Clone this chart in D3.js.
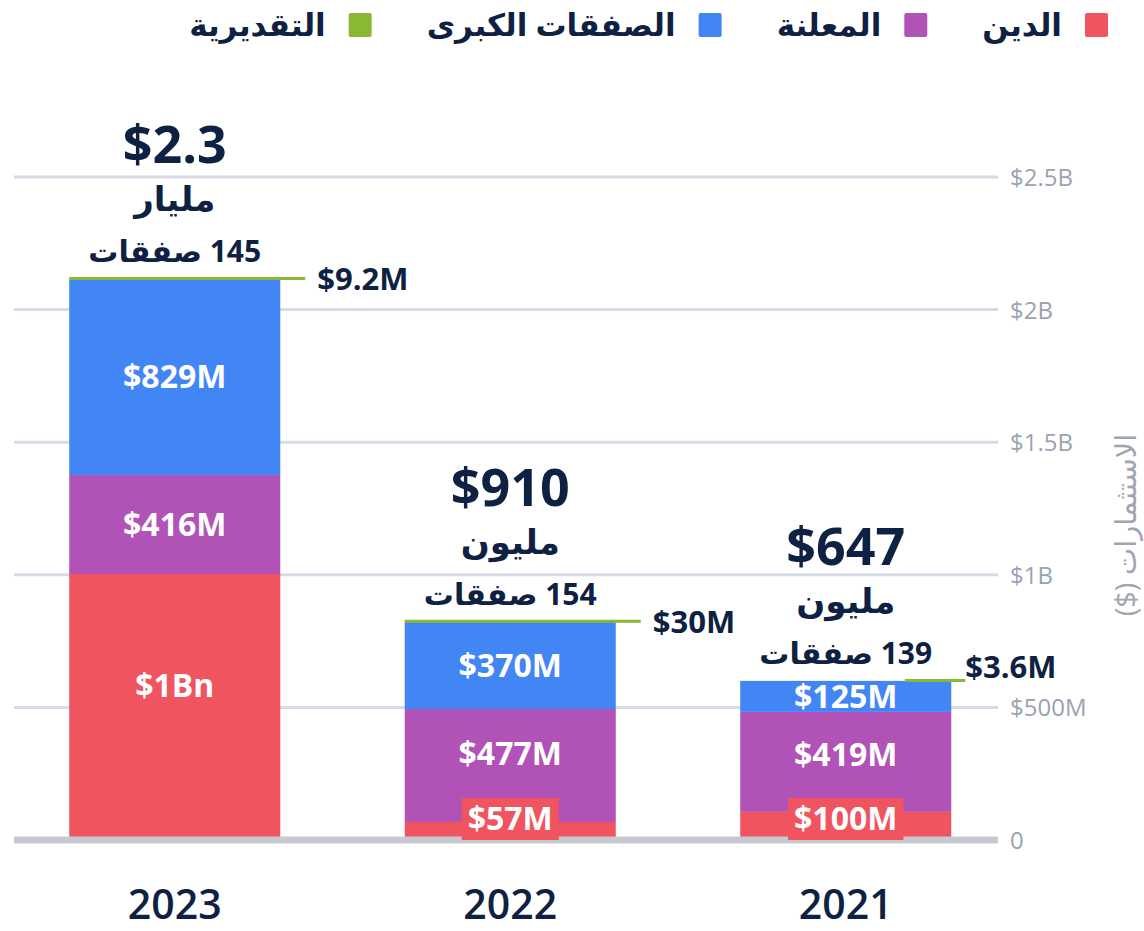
<!DOCTYPE html>
<html><head><meta charset="utf-8">
<script src="https://cdn.jsdelivr.net/npm/d3@7"></script>
<style>
html,body{margin:0;padding:0;background:#fff;}
svg{display:block;font-family:'Open Sans','Noto Sans','DejaVu Sans',sans-serif;}
</style></head>
<body><svg id="chart" width="1144" height="931"></svg>
<script>
// ---- data (millions USD) ----
const years = ["2023", "2022", "2021"];
const debt = [1003, 68, 106];        // الدين
const announced = [373, 426, 377];   // المعلنة
const mega = [739, 329, 117];        // الصفقات الكبرى
const estimated = [9.2, 30, 3.6];    // التقديرية
const debtLabels = ["$1Bn", "$57M", "$100M"];
const announcedLabels = ["$416M", "$477M", "$419M"];
const megaLabels = ["$829M", "$370M", "$125M"];
const estimatedLabels = ["$9.2M", "$30M", "$3.6M"];
const totalLabels = ["$2.3", "$910", "$647"];
const unitLabels = ["مليار", "مليون", "مليون"];
const dealLabels = ["145 صفقات", "154 صفقات", "139 صفقات"];
const tickValues = [0, 500, 1000, 1500, 2000, 2500];
const tickLabels = ["0", "$500M", "$1B", "$1.5B", "$2B", "$2.5B"];
const seriesNames = ["الدين", "المعلنة", "الصفقات الكبرى", "التقديرية"];
const colors = ["#f0545f", "#b152b6", "#4285f4", "#8ab833"];
const axisTitle = "الاستثمارات ($)";

const svg = d3.select("#chart");
const navy = "#0f2142";
const y = d3.scaleLinear().domain([0, 2500]).range([840, 177]);
const x = d3.scaleBand().domain(years).range([7, 1013.5]).paddingInner(0.371).paddingOuter(0.1855);

// gridlines
svg.append("g").selectAll("line").data(tickValues.filter(v => v > 0)).join("line")
  .attr("x1", 14).attr("x2", 998)
  .attr("y1", d => y(d)).attr("y2", d => y(d))
  .attr("stroke", "#d6dbe6").attr("stroke-width", 3);

// tick labels
const axis = d3.axisRight(y).tickValues(tickValues).tickFormat((d, i) => tickLabels[i]).tickSize(0).tickPadding(0);
const ag = svg.append("g").attr("transform", "translate(1010,0)").call(axis);
ag.select(".domain").remove();
ag.selectAll("text").attr("font-size", 24).attr("fill", "#9aa3b0").attr("font-family", "'Open Sans','Noto Sans',sans-serif").attr("dy", "0.35em");

// axis title
svg.append("text").attr("transform", "translate(1126,525) rotate(-90)")
  .style("direction", "rtl").attr("text-anchor", "middle").attr("dy", "0.35em")
  .attr("font-size", 29).attr("fill", "#a0a6b1").text(axisTitle);

// stacked data
const table = years.map((yr, i) => ({year: yr, debt: debt[i], announced: announced[i], mega: mega[i]}));
const keys = ["debt", "announced", "mega"];
const labelSets = [debtLabels, announcedLabels, megaLabels];
const stack = d3.stack().keys(keys)(table);

const bars = svg.append("g");
stack.forEach((s, k) => {
  bars.append("g").attr("fill", colors[k]).selectAll("rect").data(s).join("rect")
    .attr("x", d => x(d.data.year)).attr("width", x.bandwidth())
    .attr("y", d => y(d[1])).attr("height", d => y(d[0]) - y(d[1]));
});

// baseline
svg.append("line").attr("x1", 14).attr("x2", 998).attr("y1", y(0)).attr("y2", y(0))
  .attr("stroke", "#c6c9cf").attr("stroke-width", 7);

// segment labels
const boxTop = y(0) - 42;
const lab = svg.append("g").attr("font-weight", 700).attr("font-size", 32).attr("fill", "#fff").attr("text-anchor", "middle");
stack.forEach((s, k) => {
  s.forEach((d, i) => {
    const cx = x(d.data.year) + x.bandwidth() / 2;
    const top = y(d[1]), bot = y(d[0]);
    if (k === 0 && bot - top < 45) {
      const t = lab.append("text").attr("x", cx).attr("y", y(0) - 21).attr("dy", "0.35em").text(labelSets[k][i]);
      const w = t.node().getComputedTextLength() + 12;
      lab.insert("rect", () => t.node()).attr("x", cx - w / 2).attr("y", boxTop).attr("width", w).attr("height", 42).attr("fill", colors[0]);
    } else {
      const vb = Math.min(bot, boxTop);
      lab.append("text").attr("x", cx).attr("y", (top + vb) / 2).attr("dy", "0.35em").text(labelSets[k][i]);
    }
  });
});

// estimated lines & labels, totals
table.forEach((d, i) => {
  const x0 = x(d.year), x1 = x0 + x.bandwidth(), cx = x0 + x.bandwidth() / 2;
  const T = y(d.debt + d.announced + d.mega);
  const t = svg.append("text").attr("x", x1 + 37).attr("y", T).attr("dy", "0.35em")
    .attr("font-size", 31).attr("font-weight", 700).attr("fill", navy).text(estimatedLabels[i]);
  let lineEnd = x1 + 25, lineStart = x0;
  if (x1 + 37 + t.node().getComputedTextLength() > 1040) {
    // keep clear of the axis labels: pull label in and up
    t.attr("x", x1 + 14).attr("y", T - 14);
    lineEnd = x1 + 14; lineStart = x0 + (x1 - x0) * 0.78;
  }
  svg.insert("line", () => t.node()).attr("x1", lineStart).attr("x2", lineEnd).attr("y1", T - 0.5).attr("y2", T - 0.5)
    .attr("stroke", colors[3]).attr("stroke-width", 3);
  const g = svg.append("g").attr("text-anchor", "middle").attr("fill", navy).attr("font-weight", 700);
  g.append("text").attr("x", cx).attr("y", T - 17).style("direction", "rtl").attr("font-size", 30).text(dealLabels[i]);
  g.append("text").attr("x", cx).attr("y", T - 68).style("direction", "rtl").attr("font-size", 34).text(unitLabels[i]);
  g.append("text").attr("x", cx).attr("y", T - 116).attr("font-size", 52).text(totalLabels[i]);
});

// year labels
svg.append("g").selectAll("text").data(years).join("text")
  .attr("x", d => x(d) + x.bandwidth() / 2).attr("y", 919).attr("text-anchor", "middle")
  .attr("font-size", 41).attr("font-weight", 600).attr("fill", navy).text(d => d);

// legend (right to left)
const leg = svg.append("g");
let lx = 1108;
seriesNames.forEach((n, i) => {
  leg.append("rect").attr("x", lx - 23).attr("y", 13).attr("width", 23).attr("height", 24).attr("rx", 2).attr("fill", colors[i]);
  const t = leg.append("text").attr("x", lx - 46).attr("y", 36).attr("text-anchor", "end")
    .attr("font-size", 31).attr("font-weight", 700).attr("fill", navy).text(n);
  const w = t.node().getComputedTextLength();
  lx = lx - 46 - w - 55;
});
</script></body></html>
